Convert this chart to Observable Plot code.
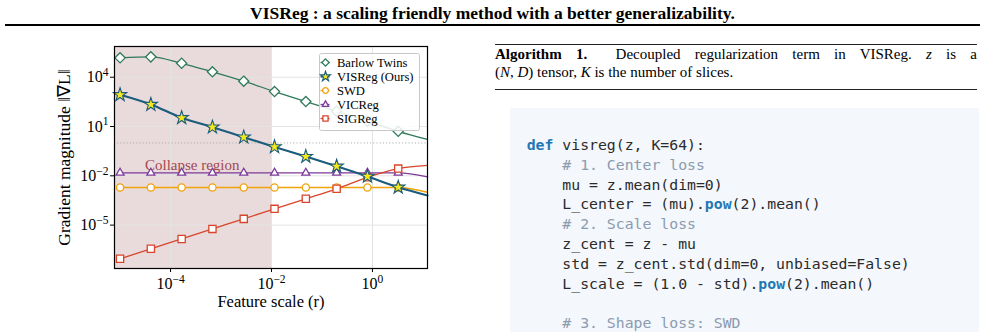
<!DOCTYPE html>
<html><head><meta charset="utf-8">
<script src="https://cdn.jsdelivr.net/npm/d3@7"></script>
<script src="https://cdn.jsdelivr.net/npm/@observablehq/plot@0.6"></script>
<style>
html,body{margin:0;padding:0;background:#fff;}
#page{position:relative;width:985px;height:332px;overflow:hidden;font-family:"Liberation Serif",serif;color:#000;}
#title{position:absolute;left:0;top:2.5px;width:985px;text-align:center;font-weight:bold;font-size:17.5px;line-height:20px;white-space:nowrap;}
#rule{position:absolute;left:5px;top:24px;width:975px;height:2px;background:#000;}
#chart{position:absolute;left:0;top:30px;}
#legend{position:absolute;left:319px;top:53px;}
#algo{position:absolute;left:495px;top:44px;width:482px;border-top:1.3px solid #222;border-bottom:1.3px solid #222;font-size:15px;line-height:18px;padding:0 0 8px 0;}
#algo .l1{text-align:justify;text-align-last:justify;white-space:nowrap;}
#code{position:absolute;left:510px;top:108px;width:469px;height:240px;background:#f4f7fb;}
#code pre{margin:0;padding:27px 0 0 16.7px;font-family:"DejaVu Sans Mono",monospace;font-size:14.8px;line-height:19.8px;color:#2b2b2b;}
#code .kw{color:#1f78b4;font-weight:bold;}
#code .cm{color:#8b9bb0;}
</style></head>
<body>
<div id="page">
  <div id="title">VISReg : a scaling friendly method with a better generalizability.</div>
  <div id="rule"></div>
  <div id="chart"></div>
  <div id="legend"></div>
  <div id="algo">
    <div class="l1"><b>Algorithm 1.</b>&nbsp; Decoupled regularization term in VISReg. <i>z</i> is a</div>
    <div>(<i>N</i>, <i>D</i>) tensor, <i>K</i> is the number of slices.</div>
  </div>
  <div id="code"><pre id="codepre"></pre></div>
</div>
<script>
// ---------------- data (log10 values) ----------------
const seriesNames = ["Barlow Twins", "VISReg (Ours)", "SWD", "VICReg", "SIGReg"];
const markerLogX = [-5.0, -4.39, -3.78, -3.17, -2.55, -1.94, -1.32, -0.71, -0.10, 0.51];
const lineEndLogX = 1.09;
const barlowLogY = [5.18, 5.24, 4.85, 4.33, 3.76, 3.13, 2.52, 1.93, 1.33, 0.71];
const barlowEndLogY = 0.21;
const visregLogY = [2.93, 2.34, 1.53, 0.96, 0.35, -0.24, -0.83, -1.42, -2.04, -2.70];
const visregEndLogY = -3.20;
const swdLogY = [-2.71, -2.71, -2.71, -2.71, -2.71, -2.71, -2.71, -2.71, -2.71, -2.71];
const swdEndLogY = -3.0;
const vicregLogY = [-1.82, -1.82, -1.82, -1.82, -1.82, -1.82, -1.82, -1.82, -1.82, -1.82];
const vicregEndLogY = -2.07;
const sigregLogY = [-7.05, -6.44, -5.84, -5.23, -4.62, -4.01, -3.40, -2.79, -2.09, -1.56];
const sigregEndLogY = -1.36;

const xTickExp = [-4, -2, 0];
const yTickExp = [4, 1, -2, -5];
const collapseEndExp = -2;
const refLineValue = 1;
const collapseLabel = "Collapse region";
const collapseLabelLog = {x: -3.57, y: -1.37};
const xLabel = "Feature scale (r)";
const yLabel = "Gradient magnitude \u2016\u2207L\u2016";

const codeLines = [
  "def visreg(z, K=64):",
  "    # 1. Center loss",
  "    mu = z.mean(dim=0)",
  "    L_center = (mu).pow(2).mean()",
  "    # 2. Scale loss",
  "    z_cent = z - mu",
  "    std = z_cent.std(dim=0, unbiased=False)",
  "    L_scale = (1.0 - std).pow(2).mean()",
  "",
  "    # 3. Shape loss: SWD"
];

// ---------------- styles ----------------
const styles = {
  "Barlow Twins": {color: "#2e7a5a", symbol: "diamond2", r: 4.6, fill: "white", sw: 1.3, lw: 1.3},
  "VISReg (Ours)": {color: "#1b5c7c", symbol: "star", r: 4.2, fill: "#f4e81f", sw: 1.1, lw: 2.1},
  "SWD": {color: "#f0a30a", symbol: "circle", r: 3.6, fill: "white", sw: 1.3, lw: 1.3},
  "VICReg": {color: "#7d3a9a", symbol: "triangle2", r: 3.8, fill: "white", sw: 1.3, lw: 1.3},
  "SIGReg": {color: "#d8452b", symbol: "square2", r: 4.6, fill: "white", sw: 1.3, lw: 1.3}
};
const seriesY = {
  "Barlow Twins": [barlowLogY, barlowEndLogY],
  "VISReg (Ours)": [visregLogY, visregEndLogY],
  "SWD": [swdLogY, swdEndLogY],
  "VICReg": [vicregLogY, vicregEndLogY],
  "SIGReg": [sigregLogY, sigregEndLogY]
};
const drawOrder = ["Barlow Twins", "SWD", "VICReg", "SIGReg", "VISReg (Ours)"];

const xDomain = [10 ** -5.11, 10 ** 1.09];
const yDomain = [10 ** -7.64, 10 ** 5.87];
const xTicks = xTickExp.map(e => 10 ** e);
const yTicks = yTickExp.map(e => 10 ** e);
const expFmt = d => String(Math.round(Math.log10(d)));

const plotted = [];
for (const name of drawOrder) {
  const st = styles[name];
  const [ys, yEnd] = seriesY[name];
  const pts = markerLogX.map((lx, i) => ({name, x: 10 ** lx, y: 10 ** ys[i]}));
  const linePts = pts.concat([{name, x: 10 ** lineEndLogX, y: 10 ** yEnd}]);
  plotted.push(Plot.line(linePts, {x: "x", y: "y", stroke: st.color, strokeWidth: st.lw, curve: "monotone-x"}));
  plotted.push(Plot.dot(pts, {x: "x", y: "y", symbol: st.symbol, r: st.r, fill: st.fill, stroke: st.color, strokeWidth: st.sw}));
}

const chart = Plot.plot({
  width: 450, height: 302,
  marginLeft: 114, marginRight: 23, marginTop: 16, marginBottom: 64,
  style: {fontFamily: "Liberation Serif, serif", fontSize: "16px", color: "#000", background: "transparent", overflow: "visible"},
  x: {type: "log", domain: xDomain},
  y: {type: "log", domain: yDomain},
  marks: [
    Plot.rect([{x1: xDomain[0], x2: 10 ** collapseEndExp}], {x1: "x1", x2: "x2", y1: () => yDomain[0], y2: () => yDomain[1], fill: "#e9dadc"}),
    Plot.gridX(xTicks, {stroke: "#e4e4e4", strokeOpacity: 1, strokeWidth: 1}),
    Plot.gridY(yTicks, {stroke: "#e4e4e4", strokeOpacity: 1, strokeWidth: 1}),
    Plot.ruleY([refLineValue], {stroke: "#b0b0b0", strokeWidth: 1, strokeDasharray: "1.2,2"}),
    Plot.text([collapseLabel], {x: () => 10 ** collapseLabelLog.x, y: () => 10 ** collapseLabelLog.y, text: d => d, fill: "#a3484e", fontSize: 15, fontFamily: "Liberation Serif, serif"}),
    ...plotted,
    Plot.frame({stroke: "#000", strokeWidth: 1.2}),
    Plot.axisX(xTicks, {tickSize: 4, tickPadding: 5, tickFormat: expFmt, label: null, fontSize: 16}),
    Plot.axisY(yTicks, {tickSize: 4, tickPadding: 2, tickFormat: expFmt, label: null, fontSize: 16}),
    Plot.text([yLabel], {frameAnchor: "left", textAnchor: "middle", rotate: -90, dx: -50, dy: 0, text: d => d, fontSize: 17.5, fill: "#000"}),
    Plot.text([xLabel], {frameAnchor: "bottom", textAnchor: "middle", dy: 38.5, text: d => d, fontSize: 16.5, fill: "#000"})
  ]
});

// render exponents as superscripts in tick labels
function superscriptTicks(svg, label) {
  svg.querySelectorAll(`g[aria-label="${label}"] text`).forEach(t => {
    const e = t.textContent.replace("-", "\u2212");
    t.textContent = "";
    const base = document.createElementNS("http://www.w3.org/2000/svg", "tspan");
    base.textContent = "10";
    const sup = document.createElementNS("http://www.w3.org/2000/svg", "tspan");
    sup.textContent = e;
    sup.setAttribute("dy", "-0.55em");
    sup.setAttribute("font-size", "11.5px");
    t.appendChild(base); t.appendChild(sup);
  });
}
superscriptTicks(chart, "x-axis tick label");
superscriptTicks(chart, "y-axis tick label");
document.getElementById("chart").appendChild(chart);

// ---------------- legend (separate small Plot) ----------------
const legendOrder = seriesNames;
const legend = Plot.plot({
  width: 100, height: 77, margin: 0,
  style: {fontFamily: "Liberation Serif, serif", fontSize: "12.6px", color: "#000", background: "transparent", overflow: "visible"},
  x: {domain: [0, 100], range: [0, 100], axis: null},
  y: {type: "point", domain: legendOrder, range: [7.7, 66], padding: 0, axis: null},
  marks: [
    Plot.frame({fill: "white", fillOpacity: 0.85, stroke: "#c8c8c8", strokeWidth: 1, rx: 2}),
    Plot.ruleY(legendOrder, {y: d => d, x1: () => 1.5, x2: () => 10.5, stroke: d => styles[d].color, strokeWidth: d => styles[d].lw}),
    Plot.dot(legendOrder, {y: d => d, x: () => 6, symbol: d => styles[d].symbol, r: d => styles[d].r, fill: d => styles[d].fill, stroke: d => styles[d].color, strokeWidth: d => styles[d].sw}),
    Plot.text(legendOrder, {y: d => d, x: () => 17.4, text: d => d, textAnchor: "start", fill: "#000"})
  ]
});
document.getElementById("legend").appendChild(legend);

// ---------------- code block ----------------
const pre = document.getElementById("codepre");
codeLines.forEach((line, i) => {
  const trimmed = line.trim();
  if (trimmed.startsWith("#")) {
    const lead = line.slice(0, line.indexOf("#"));
    pre.appendChild(document.createTextNode(lead));
    const s = document.createElement("span"); s.className = "cm"; s.textContent = trimmed;
    pre.appendChild(s);
  } else {
    const parts = line.split(/(\bdef\b|\bpow\b)/);
    parts.forEach(p => {
      if (p === "def" || p === "pow") {
        const s = document.createElement("span"); s.className = "kw"; s.textContent = p; pre.appendChild(s);
      } else pre.appendChild(document.createTextNode(p));
    });
  }
  if (i < codeLines.length - 1) pre.appendChild(document.createTextNode("\n"));
});
</script>
</body></html>
